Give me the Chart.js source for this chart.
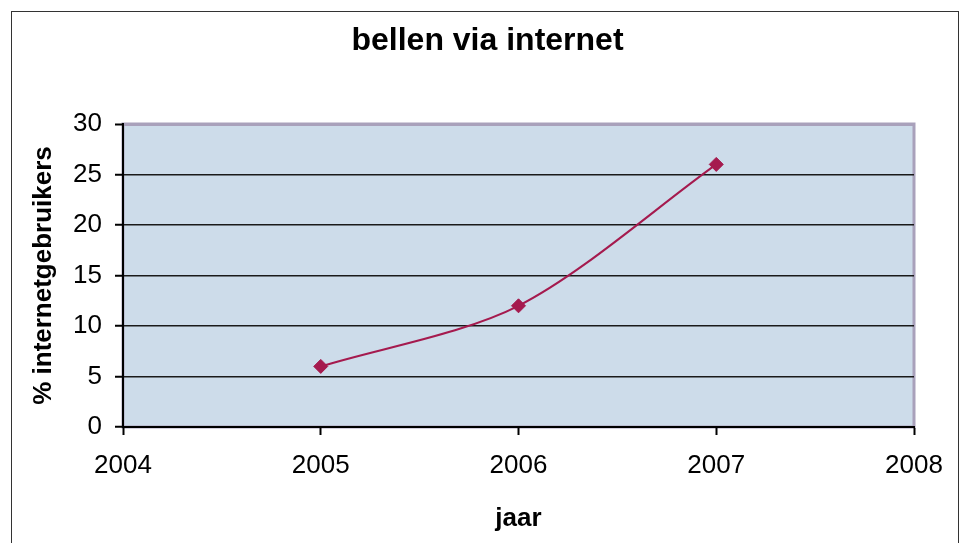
<!DOCTYPE html>
<html>
<head>
<meta charset="utf-8">
<script src="https://cdn.jsdelivr.net/npm/chart.js@4"></script>
<style>
    html, body {margin:0; padding:0; background:#fff; overflow:hidden;}
    #wrap {position:relative; width:962px; height:543px;}
    #frame {position:absolute; left:11px; top:11px; width:946px; height:600px; border:1.5px solid #333; pointer-events:none;}
</style>
</head>
<body>
<div id="wrap">
    <canvas id="chart" width="962" height="543"></canvas>
    <div id="frame"></div>
</div>
<script>
// data
const years = [2005, 2006, 2007];
const internetShare = [6, 12, 26];
const xTicks = [2004, 2005, 2006, 2007, 2008];
const yTicks = [0, 5, 10, 15, 20, 25, 30];

const font = "'Liberation Sans', Arial, sans-serif";
const lineColor = "#A51A4E";

// plot background + grey border (top/right), axes draw over the rest
const plotBg = {
    id: "plotBg",
    beforeDraw(chart) {
        const {ctx, chartArea: a} = chart;
        ctx.save();
        ctx.fillStyle = "#CDDCEA";
        ctx.fillRect(a.left, a.top, a.right - a.left, a.bottom - a.top);
        ctx.strokeStyle = "#A9A1BB";
        ctx.lineWidth = 3;
        ctx.strokeRect(a.left, a.top, a.right - a.left, a.bottom - a.top);
        ctx.restore();
    }
};

new Chart(document.getElementById("chart"), {
    type: "line",
    data: {
        datasets: [{
            label: "bellen via internet",
            data: years.map((y, i) => ({x: y, y: internetShare[i]})),
            borderColor: lineColor,
            backgroundColor: lineColor,
            borderWidth: 2,
            tension: 0.3,
            pointStyle: "rectRot",
            pointRadius: 7,
            pointBorderWidth: 1,
            pointBorderColor: lineColor,
            pointBackgroundColor: lineColor,
            fill: false
        }]
    },
    options: {
        responsive: false,
        devicePixelRatio: 1,
        animation: false,
        layout: {padding: {left: 13, right: 0, top: 0, bottom: 0}},
        plugins: {
            legend: {display: false},
            tooltip: {enabled: false},
            title: {
                display: true,
                text: "bellen via internet",
                color: "#000",
                font: {family: font, size: 32, weight: "bold", lineHeight: 1.2},
                padding: {top: 22, bottom: 63.6}
            }
        },
        scales: {
            x: {
                type: "linear",
                min: xTicks[0],
                max: xTicks[xTicks.length - 1],
                afterBuildTicks: s => { s.ticks = xTicks.map(v => ({value: v})); },
                afterFit: s => { s.height = 116; },
                ticks: {
                    color: "#000",
                    padding: 15,
                    maxRotation: 0,
                    font: {family: font, size: 26, lineHeight: 1.2},
                    callback: v => String(v)
                },
                grid: {drawOnChartArea: false, drawTicks: true, tickLength: 8, tickColor: "#000", tickWidth: 2},
                border: {color: "#000", width: 2},
                title: {
                    display: true,
                    text: "jaar",
                    color: "#000",
                    font: {family: font, size: 26, weight: "bold", lineHeight: 1.2},
                    padding: {top: 0, bottom: 9}
                }
            },
            y: {
                min: 0,
                max: 30,
                afterBuildTicks: s => { s.ticks = yTicks.map(v => ({value: v})); },
                afterFit: s => { s.width = 110; },
                ticks: {
                    color: "#000",
                    padding: 13,
                    font: {family: font, size: 26, lineHeight: 1.2}
                },
                grid: {
                    color: c => c.tick && c.tick.value === 30 ? "#A9A1BB" : "#1a1a1a",
                    lineWidth: c => c.tick && c.tick.value === 30 ? 3 : 1.5,
                    tickLength: 8,
                    tickColor: "#000",
                    tickWidth: 2
                },
                border: {color: "#000", width: 2},
                title: {
                    display: true,
                    text: "% internetgebruikers",
                    color: "#000",
                    font: {family: font, size: 26, weight: "bold", lineHeight: 1.2},
                    padding: {top: 15, bottom: 0}
                }
            },
            // empty right-hand axis that only reserves the white margin
            yRight: {
                position: "right",
                min: 0,
                max: 30,
                afterFit: s => { s.width = 48; },
                ticks: {display: false},
                grid: {display: false},
                border: {display: false}
            }
        }
    },
    plugins: [plotBg]
});
</script>
</body>
</html>
